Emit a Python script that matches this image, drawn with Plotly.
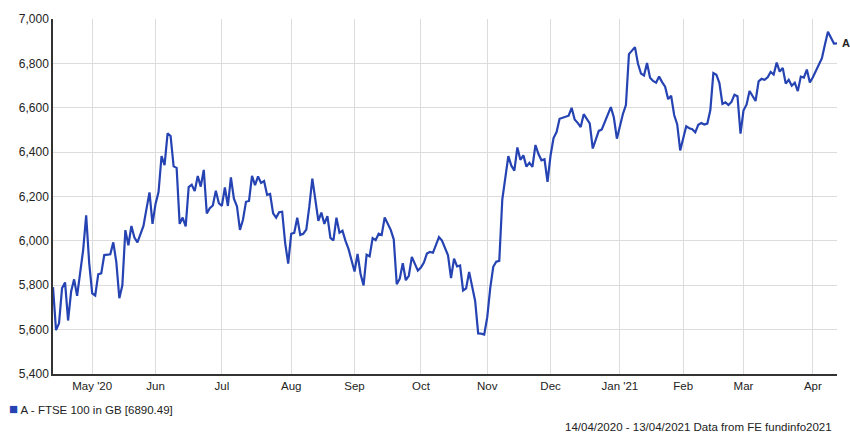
import plotly.graph_objects as go

# ---- data: FTSE 100 daily closes ----
dates = [
    # Apr 2020
    "2020-04-14","2020-04-15","2020-04-16","2020-04-17","2020-04-20","2020-04-21","2020-04-22","2020-04-23","2020-04-24","2020-04-27","2020-04-28","2020-04-29","2020-04-30",
    # May 2020
    "2020-05-01","2020-05-04","2020-05-05","2020-05-06","2020-05-07","2020-05-11","2020-05-12","2020-05-13","2020-05-14","2020-05-15","2020-05-18","2020-05-19","2020-05-20","2020-05-21","2020-05-22","2020-05-26","2020-05-27","2020-05-28","2020-05-29",
    # Jun 2020
    "2020-06-01","2020-06-02","2020-06-03","2020-06-04","2020-06-05","2020-06-08","2020-06-09","2020-06-10","2020-06-11","2020-06-12","2020-06-15","2020-06-16","2020-06-17","2020-06-18","2020-06-19","2020-06-22","2020-06-23","2020-06-24","2020-06-25","2020-06-26","2020-06-29","2020-06-30",
    # Jul 2020
    "2020-07-01","2020-07-02","2020-07-03","2020-07-06","2020-07-07","2020-07-08","2020-07-09","2020-07-10","2020-07-13","2020-07-14","2020-07-15","2020-07-16","2020-07-17","2020-07-20","2020-07-21","2020-07-22","2020-07-23","2020-07-24","2020-07-27","2020-07-28","2020-07-29","2020-07-30","2020-07-31",
    # Aug 2020
    "2020-08-03","2020-08-04","2020-08-05","2020-08-06","2020-08-07","2020-08-10","2020-08-11","2020-08-12","2020-08-13","2020-08-14","2020-08-17","2020-08-18","2020-08-19","2020-08-20","2020-08-21","2020-08-24","2020-08-25","2020-08-26","2020-08-27","2020-08-28",
    # Sep 2020
    "2020-09-01","2020-09-02","2020-09-03","2020-09-04","2020-09-07","2020-09-08","2020-09-09","2020-09-10","2020-09-11","2020-09-14","2020-09-15","2020-09-16","2020-09-17","2020-09-18","2020-09-21","2020-09-22","2020-09-23","2020-09-24","2020-09-25","2020-09-28","2020-09-29","2020-09-30",
    # Oct 2020
    "2020-10-01","2020-10-02","2020-10-05","2020-10-06","2020-10-07","2020-10-08","2020-10-09","2020-10-12","2020-10-13","2020-10-14","2020-10-15","2020-10-16","2020-10-19","2020-10-20","2020-10-21","2020-10-22","2020-10-23","2020-10-26","2020-10-27","2020-10-28","2020-10-29","2020-10-30",
    # Nov 2020
    "2020-11-02","2020-11-03","2020-11-04","2020-11-05","2020-11-06","2020-11-09","2020-11-10","2020-11-11","2020-11-12","2020-11-13","2020-11-16","2020-11-17","2020-11-18","2020-11-19","2020-11-20","2020-11-23","2020-11-24","2020-11-25","2020-11-26","2020-11-27","2020-11-30",
    # Dec 2020
    "2020-12-01","2020-12-02","2020-12-03","2020-12-04","2020-12-07","2020-12-08","2020-12-09","2020-12-10","2020-12-11","2020-12-14","2020-12-15","2020-12-16","2020-12-17","2020-12-18","2020-12-21","2020-12-22","2020-12-23","2020-12-24","2020-12-29","2020-12-30","2020-12-31",
    # Jan 2021
    "2021-01-04","2021-01-05","2021-01-06","2021-01-07","2021-01-08","2021-01-11","2021-01-12","2021-01-13","2021-01-14","2021-01-15","2021-01-18","2021-01-19","2021-01-20","2021-01-21","2021-01-22","2021-01-25","2021-01-26","2021-01-27","2021-01-28","2021-01-29",
    # Feb 2021
    "2021-02-01","2021-02-02","2021-02-03","2021-02-04","2021-02-05","2021-02-08","2021-02-09","2021-02-10","2021-02-11","2021-02-12","2021-02-15","2021-02-16","2021-02-17","2021-02-18","2021-02-19","2021-02-22","2021-02-23","2021-02-24","2021-02-25","2021-02-26",
    # Mar 2021
    "2021-03-01","2021-03-02","2021-03-03","2021-03-04","2021-03-05","2021-03-08","2021-03-09","2021-03-10","2021-03-11","2021-03-12","2021-03-15","2021-03-16","2021-03-17","2021-03-18","2021-03-19","2021-03-22","2021-03-23","2021-03-24","2021-03-25","2021-03-26","2021-03-29","2021-03-30","2021-03-31",
    # Apr 2021
    "2021-04-01","2021-04-06","2021-04-07","2021-04-08","2021-04-09","2021-04-12","2021-04-13",
]

closes = [
    5791.31,5597.65,5628.43,5786.96,5812.83,5641.03,5770.63,5826.61,5752.23,5846.79,5958.50,6115.25,5901.21,
    5763.06,5753.78,5849.42,5853.76,5935.98,5939.73,5993.28,5904.03,5741.54,5799.77,6048.59,5980.08,6067.16,6015.25,5993.30,6067.76,6144.25,6218.79,6076.60,
    6166.42,6220.14,6382.41,6341.44,6484.30,6472.59,6335.72,6329.13,6076.66,6105.18,6064.70,6242.79,6253.25,6224.06,6292.60,6244.56,6320.12,6123.69,6147.14,6159.30,6225.77,6169.74,
    6157.96,6240.36,6157.30,6285.94,6189.90,6156.16,6049.62,6095.41,6176.19,6179.75,6292.65,6250.69,6290.30,6261.52,6269.73,6207.10,6211.44,6123.82,6104.72,6129.26,6131.46,5989.99,5897.76,
    6032.18,6036.04,6104.28,6026.94,6032.20,6050.59,6154.34,6280.12,6185.62,6090.04,6127.44,6076.62,6111.98,6013.34,6001.89,6104.73,6037.01,6045.60,5999.99,5963.57,
    5862.04,5940.95,5850.86,5799.08,5937.40,5930.32,6012.84,6003.32,6032.09,6026.25,6105.54,6078.48,6049.92,6007.05,5804.29,5829.46,5899.26,5822.78,5842.67,5927.93,5898.46,5866.10,
    5879.45,5902.12,5942.94,5949.94,5946.25,5978.03,6016.65,6001.38,5969.71,5934.96,5832.52,5919.58,5884.65,5889.22,5776.50,5785.65,5860.28,5792.01,5728.99,5582.80,5581.75,5577.27,
    5654.97,5786.77,5883.26,5906.18,5910.02,6186.29,6296.85,6382.10,6338.94,6316.39,6421.29,6365.33,6385.24,6334.35,6351.45,6333.84,6432.17,6391.09,6362.93,6367.58,6266.19,
    6384.73,6463.39,6490.27,6550.23,6555.38,6558.82,6564.29,6599.76,6546.75,6531.83,6513.32,6570.91,6550.66,6529.18,6416.32,6453.16,6495.75,6502.11,6602.65,6555.82,6460.52,
    6571.88,6612.25,6841.86,6856.96,6873.26,6798.48,6754.11,6745.52,6801.96,6735.71,6720.65,6712.95,6740.39,6715.42,6695.07,6638.85,6654.01,6567.37,6526.15,6407.46,
    6466.42,6516.65,6507.83,6503.67,6489.33,6523.53,6531.56,6524.36,6528.72,6589.79,6756.11,6748.86,6710.90,6617.15,6624.02,6612.24,6625.94,6659.00,6651.96,6483.43,
    6588.53,6613.75,6675.47,6650.88,6630.52,6719.13,6730.34,6725.60,6736.96,6761.47,6749.70,6803.61,6762.67,6779.68,6708.71,6726.10,6699.19,6712.89,6674.80,6740.59,6736.17,6772.12,6713.63,
    6737.30,6823.55,6885.36,6942.22,6915.75,6889.12,6890.49,
]

month_tick_dates = ["2020-05-01","2020-06-01","2020-07-01","2020-08-03","2020-09-01","2020-10-01",
                    "2020-11-02","2020-12-01","2021-01-01","2021-02-01","2021-03-01","2021-04-01"]
month_tick_labels = ["May '20","Jun","Jul","Aug","Sep","Oct","Nov","Dec","Jan '21","Feb","Mar","Apr"]
y_ticks = [5400, 5600, 5800, 6000, 6200, 6400, 6600, 6800, 7000]

series_label = "A - FTSE 100 in GB [6890.49]"
footer_text = "14/04/2020 - 13/04/2021 Data from FE fundinfo2021"

LINE = "#2543b2"
FONT = "Liberation Sans, Arial, sans-serif"

fig = go.Figure()
fig.add_trace(go.Scatter(
    x=dates, y=closes, mode="lines",
    line=dict(color=LINE, width=2.2), showlegend=False, hoverinfo="skip",
))

fig.update_layout(
    width=850, height=437,
    margin=dict(l=53, r=13, t=13, b=63),
    paper_bgcolor="white", plot_bgcolor="white",
    font=dict(family=FONT, size=12, color="#222222"),
    xaxis=dict(
        range=[dates[0], dates[-1]],
        rangebreaks=[dict(bounds=["sat", "mon"])],
        tickmode="array", tickvals=month_tick_dates, ticktext=month_tick_labels,
        showgrid=True, gridcolor="#dcdcdc", gridwidth=1,
        showline=True, linecolor="#333333", linewidth=1.5,
        ticks="", tickfont=dict(size=11.5, color="#222222"),
        zeroline=False,
    ),
    yaxis=dict(
        range=[5400, 7000],
        tickmode="array", tickvals=y_ticks, tickformat=",",
        showgrid=True, gridcolor="#dcdcdc", gridwidth=1,
        showline=True, linecolor="#333333", linewidth=1.5,
        ticks="", tickfont=dict(size=12, color="#222222"),
        zeroline=False,
    ),
)

# end label "A"
fig.add_annotation(
    x=dates[-1], y=closes[-1], text="<b>A</b>", showarrow=False,
    xanchor="left", yanchor="middle", xshift=3, font=dict(size=11, color="#222222"),
)

# legend entry
fig.add_annotation(
    xref="paper", yref="paper", x=-0.059, y=-0.098,
    xanchor="left", yanchor="middle", showarrow=False,
    text=f"<span style='color:{LINE};font-size:15px'>■</span> {series_label}",
    font=dict(size=11.5, color="#222222"),
)

# footer
fig.add_annotation(
    xref="paper", yref="paper", x=0.996, y=-0.15,
    xanchor="right", yanchor="middle", showarrow=False,
    text=footer_text, font=dict(size=11.5, color="#222222"),
)

fig.write_html(
    "out.html",
    config={"displayModeBar": False},
    post_script="document.body.style.margin='0';document.body.style.overflow='hidden';",
)
